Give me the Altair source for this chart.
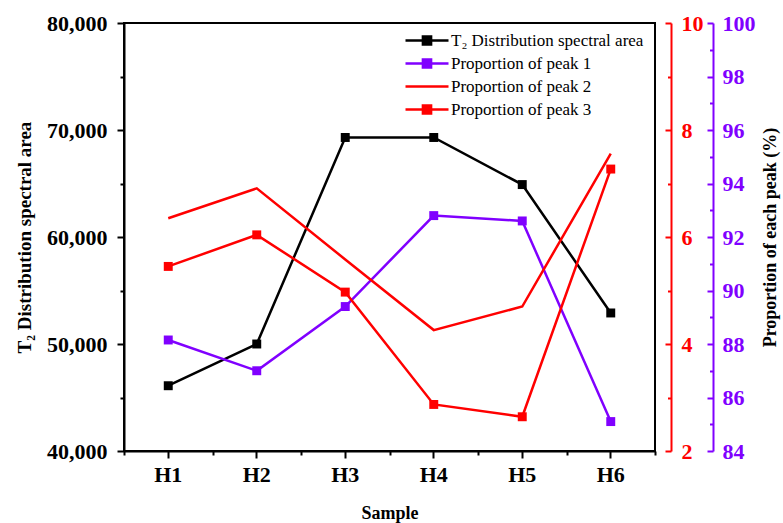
import altair as alt
import pandas as pd

samples = ["H1", "H2", "H3", "H4", "H5", "H6"]
spectral_area = [46100, 50000, 69300, 69300, 64900, 52900]
peak1 = [88.15, 87.0, 89.4, 92.8, 92.6, 85.1]
peak2 = [6.35, 6.91, 5.58, 4.26, 4.70, 7.56]
peak3 = [5.45, 6.04, 4.97, 2.87, 2.64, 7.27]

series_names = ["T₂ Distribution spectral area", "Proportion of peak 1",
                "Proportion of peak 2", "Proportion of peak 3"]
series_colors = ["#000000", "#8000ff", "#ff0000", "#ff0000"]

area_domain = [40000, 80000]
area_ticks = [40000, 45000, 50000, 55000, 60000, 65000, 70000, 75000, 80000]
red_domain = [2, 10]
red_ticks = [2, 3, 4, 5, 6, 7, 8, 9, 10]
purple_domain = [84, 100]
purple_ticks = [84, 85, 86, 87, 88, 89, 90, 91, 92, 93, 94, 95, 96, 97, 98, 99, 100]

df = pd.DataFrame({"Sample": samples, "area": spectral_area,
                   "p1": peak1, "p2": peak2, "p3": peak3})

W, H = 531, 428
FONT = "Liberation Serif"
PURPLE = "#8000ff"
RED = "#ff0000"

x_scale = alt.Scale(type="band", domain=samples, paddingInner=0, paddingOuter=0)
area_scale = alt.Scale(domain=area_domain, nice=False, zero=False)
red_scale = alt.Scale(domain=red_domain, nice=False, zero=False)
purple_scale = alt.Scale(domain=purple_domain, nice=False, zero=False)
color_scale = alt.Scale(domain=series_names, range=series_colors)

SQ = "M-1,0H1M-0.19,-0.19H0.19V0.19H-0.19Z"
shape_expr = f"datum.value === '{series_names[2]}' ? 'M-1,0H1' : '{SQ}'"
fill_expr = (f"datum.value === '{series_names[1]}' ? '{PURPLE}' : "
             f"(datum.value === '{series_names[0]}' ? '#000000' : '{RED}')")

legend = alt.Legend(
    title=None, orient="none", legendX=280, legendY=6, padding=0,
    clipHeight=23, rowPadding=0, symbolSize=1849, symbolStrokeWidth=2.5,
    symbolOffset=0, labelFont=FONT, labelFontSize=17, labelColor="black",
    labelOffset=1, labelLimit=400,
    symbolType=alt.ExprRef(expr=shape_expr),
    symbolFillColor=alt.ExprRef(expr=fill_expr),
    symbolStrokeColor=alt.ExprRef(expr=fill_expr),
)


def minor_size(step, major, minor):
    return {"condition": {"test": f"datum.value % {step} !== 0", "value": minor},
            "value": major}


def major_label(step):
    return f"datum.value % {step} === 0 ? datum.label : ''"


x_major_axis = alt.Axis(
    orient="bottom",
    title="Sample", titleFont=FONT, titleFontSize=18, titleFontWeight="bold",
    titleColor="black", titleX=W / 2, titleY=62, titleBaseline="middle",
    labelFont=FONT, labelFontSize=22, labelFontWeight="bold", labelColor="black",
    labelAngle=0, labelPadding=6, tickSize=7, tickWidth=2, tickColor="black",
    domainColor="black", domainWidth=2, grid=False,
)
x_minor_axis = alt.Axis(orient="bottom", tickBand="extent", tickSize=4, tickWidth=2,
                        tickColor="black", labels=False, domain=False, title=None,
                        grid=False)

left_axis = alt.Axis(
    orient="left", values=area_ticks, format=",d", labelExpr=major_label(10000),
    title="T₂ Distribution spectral area", titleFont=FONT, titleFontSize=19,
    titleFontWeight="bold", titleColor="black", titleX=-100, titleY=H / 2,
    titleAngle=270, titleBaseline="middle", titleAlign="center",
    labelFont=FONT, labelFontSize=22, labelFontWeight="bold", labelColor="black",
    labelPadding=10, tickSize=minor_size(10000, 7, 4), tickWidth=2, tickColor="black",
    domainColor="black", domainWidth=2, grid=False,
)

red_axis = alt.Axis(
    orient="left", offset=-(W + 16), values=red_ticks, labelExpr=major_label(2),
    title=None,
    labelFont=FONT, labelFontSize=22, labelFontWeight="bold", labelColor=RED,
    labelAlign="left", labelPadding=-16, tickSize=minor_size(2, 6, 3.5), tickWidth=2,
    tickColor=RED, domainColor=RED, domainWidth=2, grid=False,
)

purple_axis = alt.Axis(
    orient="left", offset=-(W + 58), values=purple_ticks, labelExpr=major_label(2),
    title="Proportion of each peak (%)", titleFont=FONT, titleFontSize=18,
    titleFontWeight="bold", titleColor="black", titleX=57, titleY=H / 2,
    titleAngle=270, titleBaseline="middle", titleAlign="center",
    labelFont=FONT, labelFontSize=22, labelFontWeight="bold", labelColor=PURPLE,
    labelAlign="left", labelPadding=-15, tickSize=minor_size(2, 6, 3.5), tickWidth=2,
    tickColor=PURPLE, domainColor=PURPLE, domainWidth=2, grid=False,
)

base = alt.Chart(df)
pt = alt.OverlayMarkDef(shape="square", size=80, filled=True, opacity=1)


def series_layer(name):
    return base.transform_calculate(series=f"'{name}'")


def color_enc():
    return alt.Color("series:N", scale=color_scale, legend=legend)


black = series_layer(series_names[0]).mark_line(strokeWidth=2.5, point=pt).encode(
    x=alt.X("Sample:N", scale=x_scale, axis=x_major_axis),
    y=alt.Y("area:Q", scale=area_scale, axis=left_axis),
    color=color_enc(),
)
x_minor = base.mark_point(opacity=0).encode(
    x=alt.X("Sample:N", scale=x_scale, axis=x_minor_axis),
    y=alt.Y("area:Q", scale=area_scale, axis=None),
)
purple = series_layer(series_names[1]).mark_line(strokeWidth=2.5, point=pt).encode(
    x=alt.X("Sample:N", scale=x_scale, axis=None),
    y=alt.Y("p1:Q", scale=purple_scale, axis=purple_axis),
    color=color_enc(),
)
red2 = series_layer(series_names[2]).mark_line(strokeWidth=2.5).encode(
    x=alt.X("Sample:N", scale=x_scale, axis=None),
    y=alt.Y("p2:Q", scale=red_scale, axis=red_axis),
    color=color_enc(),
)
red3 = series_layer(series_names[3]).mark_line(strokeWidth=2.5, point=pt).encode(
    x=alt.X("Sample:N", scale=x_scale, axis=None),
    y=alt.Y("p3:Q", scale=red_scale, axis=None),
    color=color_enc(),
)

chart = (
    alt.layer(black, x_minor, purple, red2, red3)
    .resolve_scale(y="independent")
    .resolve_axis(x="independent", y="independent")
    .properties(
        width=W, height=H,
        padding={"left": 124, "top": 23, "right": 128, "bottom": 72},
        autosize=alt.AutoSizeParams(type="none"),
        background="white",
    )
    .configure_view(stroke="black", strokeWidth=2)
)

chart.save("out.html", embed_options={"renderer": "svg", "actions": False})
